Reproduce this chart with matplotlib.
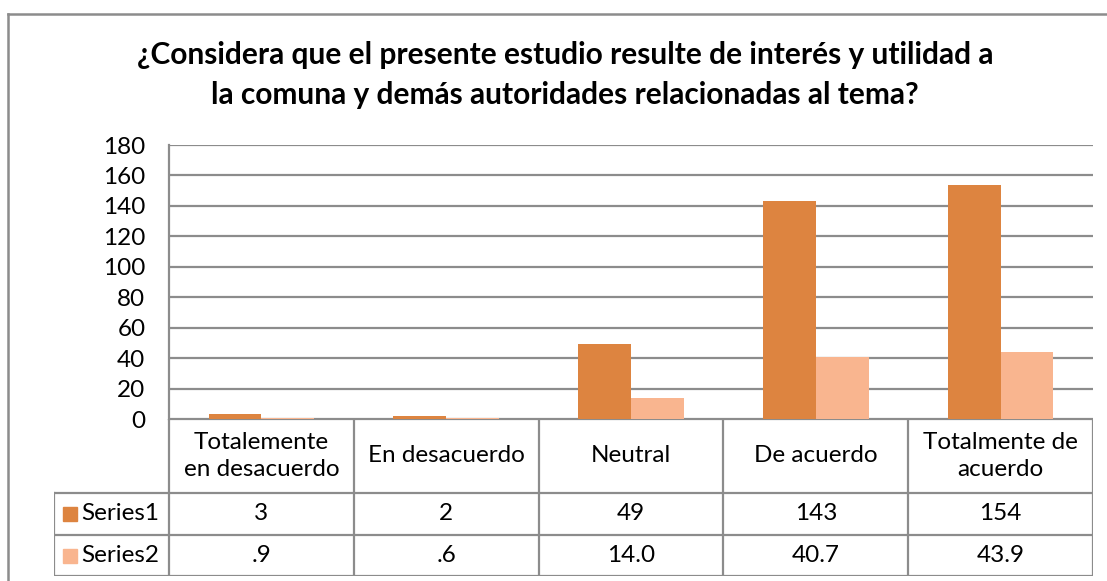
import numpy as np
import matplotlib.pyplot as plt

plt.rcParams['font.family'] = ['Lato', 'DejaVu Sans']

# data
categorias = ["Totalemente\nen desacuerdo", "En desacuerdo", "Neutral", "De acuerdo", "Totalmente de\nacuerdo"]
series1 = [3, 2, 49, 143, 154]
series2 = [0.9, 0.6, 14.0, 40.7, 43.9]
etiquetas1 = ["3", "2", "49", "143", "154"]
etiquetas2 = [".9", ".6", "14.0", "40.7", "43.9"]
nombres = ["Series1", "Series2"]
titulo = "¿Considera que el presente estudio resulte de interés y utilidad a\nla comuna y demás autoridades relacionadas al tema?"

c1 = '#DD8440'
c2 = '#F9B58F'
gris = '#8C8C8C'

W, H = 1107, 581
fig = plt.figure(figsize=(W / 100, H / 100), dpi=100)

def fx(px):
    return px / W

def fy(py):
    return 1 - py / H

# outer chart border (left and top only visible)
fig.add_artist(plt.Line2D([fx(8), fx(8)], [fy(14), 0], color=gris, lw=1.8))
fig.add_artist(plt.Line2D([fx(8), 1], [fy(14), fy(14)], color=gris, lw=1.8))

fig.text(fx(565), fy(75), titulo, ha='center', va='center', fontsize=21.5,
         fontweight='bold', linespacing=1.5)

# bar axes
x0, x1, ytop, yzero = 169, 1093, 145, 419
ax = fig.add_axes([fx(x0), fy(yzero), fx(x1 - x0), (yzero - ytop) / H])
x = np.arange(len(categorias))
bw = 0.286
ax.bar(x - bw / 2, series1, bw, color=c1, zorder=3)
ax.bar(x + bw / 2, series2, bw, color=c2, zorder=3)
ax.set_xlim(-0.5, len(categorias) - 0.5)
ax.set_ylim(0, 180)
ax.set_yticks(np.arange(0, 181, 20))
ax.set_xticks([])
ax.yaxis.grid(True, color=gris, lw=1.6, zorder=0)
for s in ['top', 'right', 'bottom']:
    ax.spines[s].set_visible(False)
ax.spines['left'].set_color(gris)
ax.spines['left'].set_linewidth(1.6)
ax.tick_params(axis='y', length=0, labelsize=17.5, pad=17)

# data table below the axis
tx0, ty0, ty1 = 54, 419, 576
tab = fig.add_axes([fx(tx0), fy(ty1), fx(x1 - tx0), (ty1 - ty0) / H])
colw = (x1 - x0) / len(categorias)
leg = (x0 - tx0) / colw
tab.set_xlim(-leg, len(categorias))
tab.set_ylim(0, ty1 - ty0)
tab.axis('off')
r1, r2 = ty1 - 493, ty1 - 535  # row boundaries (from bottom)
lk = dict(color=gris, lw=1.6, solid_capstyle='projecting')
tab.plot([0, len(categorias)], [ty1 - ty0] * 2, **lk)
tab.plot([-leg, len(categorias)], [r1, r1], **lk)
tab.plot([-leg, len(categorias)], [r2, r2], **lk)
tab.plot([-leg, len(categorias)], [0, 0], **lk)
tab.plot([-leg, -leg], [0, r1], **lk)
for i in range(len(categorias) + 1):
    tab.plot([i, i], [0, ty1 - ty0], **lk)
for i, c in enumerate(categorias):
    tab.text(i + 0.5, (r1 + ty1 - ty0) / 2, c, ha='center', va='center', fontsize=17.5, linespacing=1.3)
    tab.text(i + 0.5, (r1 + r2) / 2, etiquetas1[i], ha='center', va='center', fontsize=17.5)
    tab.text(i + 0.5, r2 / 2, etiquetas2[i], ha='center', va='center', fontsize=17.5)
for yc, col, nm in [((r1 + r2) / 2, c1, nombres[0]), (r2 / 2, c2, nombres[1])]:
    tab.add_patch(plt.Rectangle((-leg + 0.048, yc - 7), 0.075, 14, color=col))
    tab.text(-leg + 0.15, yc, nm, ha='left', va='center', fontsize=17.5)

fig.savefig('out.png', dpi=100)
